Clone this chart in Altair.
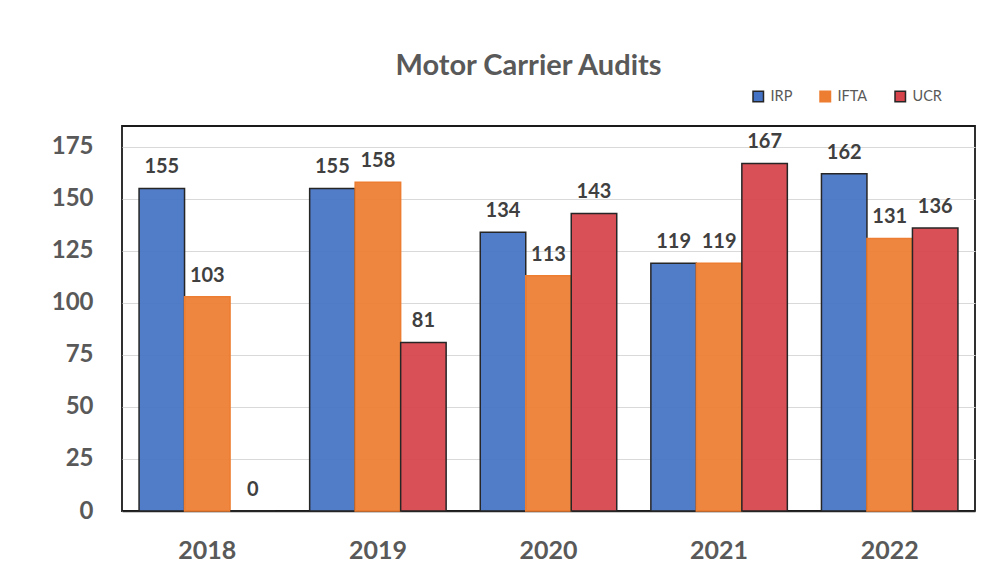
import altair as alt
import pandas as pd

years = ["2018", "2019", "2020", "2021", "2022"]
series = ["IRP", "IFTA", "UCR"]
irp = [155, 155, 134, 119, 162]
ifta = [103, 158, 113, 119, 131]
ucr = [0, 81, 143, 167, 136]
colors = ["#4472C4", "#ED7D31", "#D6434A"]
strokes = ["#262626", "#ED7D31", "#262626"]
y_ticks = [0, 25, 50, 75, 100, 125, 150, 175]

rows = []
for s, vals in zip(series, [irp, ifta, ucr]):
    for yr, v in zip(years, vals):
        rows.append({"year": yr, "series": s, "value": v})
df = pd.DataFrame(rows)

FONT = "Lato"
GRAY = "#595959"

x = alt.X("year:N", sort=years, title=None,
          scale=alt.Scale(paddingInner=0.2, paddingOuter=0.1),
          axis=alt.Axis(labelAngle=0, labelFont=FONT, labelFontSize=25,
                        labelFontWeight="bold", labelColor=GRAY, labelPadding=27,
                        ticks=False, domainColor="#262626", domainWidth=1.5))
xo = alt.XOffset("series:N", sort=series,
                 scale=alt.Scale(paddingInner=0, paddingOuter=0))
y = alt.Y("value:Q", title=None,
          scale=alt.Scale(domain=[0, 185], nice=False),
          axis=alt.Axis(values=y_ticks, labelFont=FONT, labelFontSize=24,
                        labelFontWeight="bold", labelColor=GRAY, labelPadding=29,
                        ticks=False, domain=False, gridColor="#D9D9D9",
                        gridWidth=1.2))

bars = alt.Chart(df).mark_bar(strokeWidth=1.5, fillOpacity=0.93).encode(
    x=x, xOffset=xo, y=y,
    fill=alt.Fill("series:N", sort=series,
                  scale=alt.Scale(domain=series, range=colors),
                  legend=alt.Legend(title=None, orient="none", direction="horizontal",
                                    legendX=629, legendY=-37, symbolType="square",
                                    symbolSize=110, symbolStrokeWidth=1.5,
                                    labelFont=FONT, labelFontSize=14.5, labelColor=GRAY,
                                    labelOffset=5, columnPadding=24)),
    stroke=alt.Stroke("series:N", sort=series,
                      scale=alt.Scale(domain=series, range=strokes),
                      legend=None),
)

labels = alt.Chart(df).mark_text(dy=-21, font=FONT, fontSize=20,
                                 fontWeight="bold", color="#404040").encode(
    x=alt.X("year:N", sort=years), xOffset=xo, y="value:Q",
    text="value:Q",
)

chart = alt.layer(bars, labels).properties(
    width=853, height=385,
    title=alt.TitleParams("Motor Carrier Audits", font=FONT, fontSize=29,
                          fontWeight="bold", color=GRAY, offset=8, dx=-20,
                          anchor="middle"),
    autosize=alt.AutoSizeParams(type="none"),
    padding={"left": 114, "top": 118, "right": 18, "bottom": 55},
).configure_view(stroke="#1a1a1a", strokeWidth=1.8)

chart.save("out.html", embed_options={"renderer": "svg", "actions": False})
